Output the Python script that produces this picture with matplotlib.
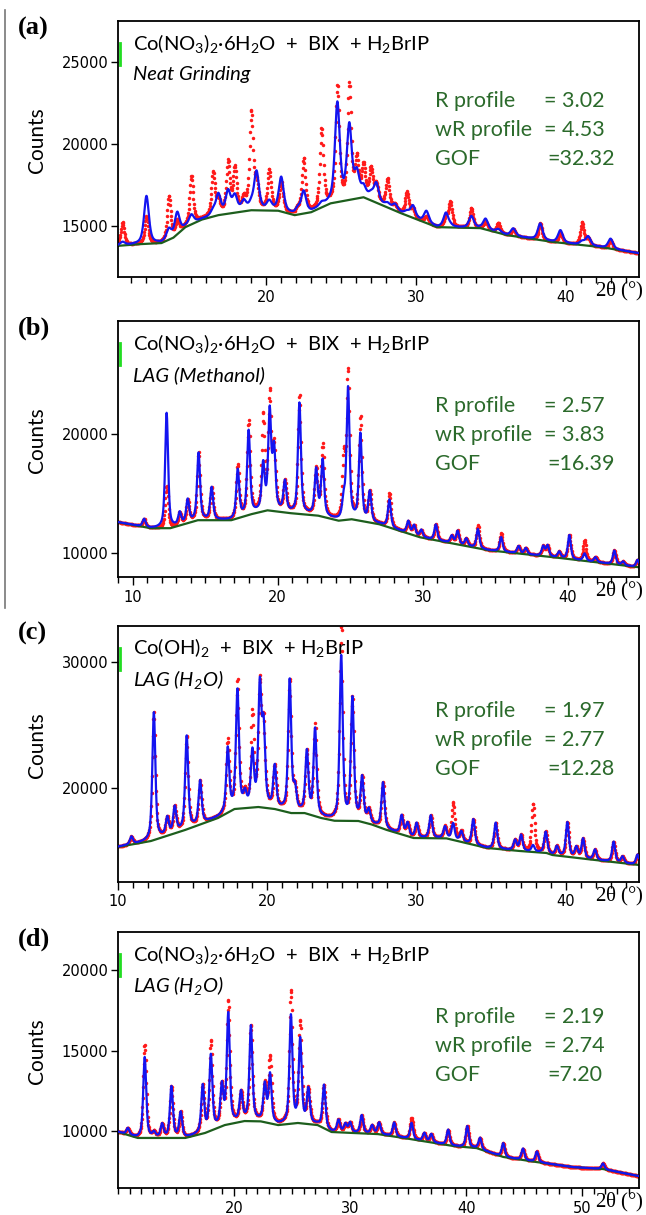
import numpy as np
import matplotlib
matplotlib.use('Agg')
import matplotlib.pyplot as plt
from matplotlib.lines import Line2D

plt.rcParams['mathtext.default'] = 'regular'

# ---- panel (a) : neat grinding ----
a_bg_x = [10.1, 11.5, 13.0, 13.8, 14.6, 15.7, 16.8, 19.0, 20.8, 21.9, 23.0, 24.3, 26.5,
          29.0, 31.4, 34.3, 36.1, 39.2, 42.3, 44.9]
a_bg_y = [13800, 13900, 13970, 14300, 14940, 15400, 15670, 15970, 15940, 15670, 15850,
          16390, 16760, 15790, 14940, 14880, 14450, 14030, 13730, 13350]
a_pk_pos = [10.4, 12.0, 13.5, 14.05, 15.0, 16.45, 16.8, 17.45, 17.9, 18.5, 19.0, 19.35,
            20.2, 21.0, 22.1, 22.5, 23.7, 24.75, 25.55, 26.05, 26.5, 27.0, 27.35, 28.1,
            28.6, 29.4, 29.8, 30.7, 32.0, 32.3, 33.7, 34.65, 35.5, 36.5, 38.3, 39.65,
            41.1, 41.5, 43.0]
a_pk_calc = [200, 2900, 600, 1300, 550, 300, 1200, 1300, 950, 550, 300, 2300,
             500, 2050, 300, 1300, 200, 5950, 4400, 1400, 500, 300, 1100, 200,
             350, 200, 700, 700, 850, 100, 700, 630, 200, 450, 1000, 750,
             200, 550, 600]
a_pk_obs = [1400, 1650, 2600, 800, 2900, 2600, 800, 3050, 2600, 700, 5900, 1500,
            2400, 1700, 300, 3300, 4700, 6950, 6900, 2300, 1800, 1850, 1000, 1700,
            300, 1400, 500, 400, 600, 1500, 1200, 500, 600, 400, 1000, 600,
            1400, 400, 500]
a_stats = [3.02, 4.53, 32.32]

# ---- panel (b) : LAG (methanol) ----
b_bg_x = [9.0, 11.25, 12.6, 14.5, 16.8, 18.2, 19.3, 20.9, 22.8, 24.2, 25.1, 27.0,
          29.8, 34.5, 39.0, 44.9]
b_bg_y = [12600, 12100, 12100, 12770, 12770, 13280, 13600, 13360, 13150, 12730, 12850,
          12430, 11340, 10250, 9660, 8820]
b_pk_pos = [10.8, 12.35, 13.25, 13.8, 14.55, 15.45, 17.25, 18.0, 19.0, 19.45, 19.75,
            20.5, 21.5, 22.65, 23.1, 24.55, 24.85, 25.7, 26.35, 27.7, 29.0, 29.4, 29.9,
            30.9, 32.0, 32.4, 33.0, 33.8, 35.4, 36.6, 37.1, 38.3, 38.6, 39.4, 40.1,
            41.15, 41.9, 43.2, 43.8, 44.8]
b_pk_calc = [650, 9650, 1000, 1900, 5600, 2700, 4000, 7000, 3800, 8150, 5000,
             2500, 9250, 3750, 4650, 1500, 10950, 7200, 2500, 2300, 1000, 800, 600,
             1300, 600, 1100, 600, 1600, 1200, 600, 500, 800, 900, 500, 2000,
             600, 400, 1150, 300, 600]
b_pk_obs = [650, 3500, 1000, 1900, 5600, 2700, 4400, 7800, 7800, 9500, 5000,
            2500, 9900, 3750, 5900, 5000, 12200, 8600, 2500, 2800, 1000, 800, 600,
            1300, 600, 1100, 600, 1900, 1500, 600, 500, 800, 900, 500, 2000,
            1700, 400, 1150, 300, 600]
b_stats = [2.57, 3.83, 16.39]

# ---- panel (c) : Co(OH)2, LAG (H2O) ----
c_bg_x = [10.0, 12.2, 14.5, 16.7, 17.8, 19.4, 20.5, 21.6, 22.5, 23.6, 24.5, 26.1,
          27.0, 28.0, 29.8, 32.0, 34.7, 36.9, 38.7, 39.1, 41.4, 44.9]
c_bg_y = [15320, 15790, 16670, 17620, 18330, 18490, 18330, 18010, 18010, 17620, 17400,
          17380, 17100, 16670, 16030, 16000, 15240, 15000, 14840, 14680, 14360, 13890]
c_pk_pos = [10.9, 12.4, 13.3, 13.8, 14.6, 15.5, 17.35, 18.0, 18.5, 19.0, 19.5, 19.75,
            20.5, 21.5, 21.85, 22.65, 23.2, 24.95, 25.7, 26.35, 26.8, 27.75, 29.0,
            29.4, 30.0, 30.95, 31.9, 32.45, 33.0, 33.8, 35.3, 36.6, 37.0, 37.8, 38.65,
            39.4, 40.1, 40.7, 41.15, 41.95, 43.2, 43.8, 44.8]
c_pk_calc = [600, 10100, 1350, 2000, 7350, 3400, 5000, 9300, 1000, 4200, 9300, 6000,
             3250, 10400, 1700, 4800, 6800, 12950, 9600, 3400, 1000, 3600, 1450,
             1000, 1150, 1780, 900, 1270, 800, 2000, 2050, 800, 1250, 500, 1650,
             700, 2700, 800, 1550, 800, 1600, 500, 800]
c_pk_obs = [600, 10100, 1350, 2000, 7350, 3400, 5600, 10100, 1000, 7200, 9300, 6000,
            3250, 10400, 1700, 4800, 7100, 15300, 9600, 3400, 1000, 3600, 1450,
            1000, 1150, 1780, 900, 2950, 800, 2000, 2050, 800, 1250, 3800, 1650,
            700, 2700, 800, 1550, 800, 1600, 500, 800]
c_stats = [1.97, 2.77, 12.28]

# ---- panel (d) : Co(NO3)2, LAG (H2O) ----
d_bg_x = [10.0, 11.7, 15.8, 17.5, 19.2, 20.9, 22.3, 23.8, 25.5, 27.2, 28.4, 30.2,
          32.4, 34.6, 38.9, 40.9, 43.2, 46.1, 49.2, 51.8, 54.9]
d_bg_y = [9940, 9570, 9570, 9880, 10370, 10620, 10600, 10370, 10500, 10370, 9940, 9880,
          9810, 9570, 9070, 8940, 8390, 8070, 7760, 7640, 7200]
d_pk_pos = [10.85, 12.3, 13.1, 13.8, 14.6, 15.4, 17.3, 18.0, 18.95, 19.5, 20.6, 21.45,
            22.65, 23.1, 24.9, 25.7, 26.4, 27.75, 29.0, 29.6, 30.0, 31.0, 31.9, 32.5,
            33.8, 35.3, 36.4, 37.0, 38.45, 40.1, 41.2, 43.2, 44.9, 46.1, 51.8]
d_pk_calc = [400, 5000, 300, 800, 3150, 1550, 2900, 4600, 2400, 6800, 1750, 5850,
             2250, 2950, 6650, 5150, 2100, 2650, 730, 500, 600, 1100, 500, 700,
             850, 1000, 500, 500, 950, 1300, 700, 850, 700, 650, 350]
d_pk_obs = [400, 5770, 300, 800, 3150, 1550, 2900, 5470, 2400, 7550, 1750, 5850,
            2250, 4000, 8150, 6200, 2100, 2650, 730, 500, 600, 1100, 500, 700,
            850, 1300, 500, 500, 950, 1300, 700, 850, 700, 650, 350]
d_stats = [2.19, 2.74, 7.20]

panel_tags = ['(a)', '(b)', '(c)', '(d)']
titles = [r'Co(NO$_3$)$_2$·6H$_2$O  +  BIX  + H$_2$BrIP',
          r'Co(NO$_3$)$_2$·6H$_2$O  +  BIX  + H$_2$BrIP',
          r'Co(OH)$_2$  +  BIX  + H$_2$BrIP',
          r'Co(NO$_3$)$_2$·6H$_2$O  +  BIX  + H$_2$BrIP']
methods = ['Neat Grinding', 'LAG (Methanol)', r'LAG (H$_2$O)', r'LAG (H$_2$O)']
stat_names = ['R profile', 'wR profile', 'GOF']

panels = [
    dict(bgx=a_bg_x, bgy=a_bg_y, pos=a_pk_pos, calc=a_pk_calc, obs=a_pk_obs, stats=a_stats,
         xlim=(10.1, 44.9), ylim=(11900, 27500), xt=[20, 30, 40], yt=[15000, 20000, 25000],
         wc=0.38, wo=0.28),
    dict(bgx=b_bg_x, bgy=b_bg_y, pos=b_pk_pos, calc=b_pk_calc, obs=b_pk_obs, stats=b_stats,
         xlim=(9.0, 44.9), ylim=(8000, 29500), xt=[10, 20, 30, 40], yt=[10000, 20000],
         wc=0.24, wo=0.24),
    dict(bgx=c_bg_x, bgy=c_bg_y, pos=c_pk_pos, calc=c_pk_calc, obs=c_pk_obs, stats=c_stats,
         xlim=(10.0, 44.9), ylim=(12540, 32860), xt=[10, 20, 30, 40], yt=[20000, 30000],
         wc=0.24, wo=0.24),
    dict(bgx=d_bg_x, bgy=d_bg_y, pos=d_pk_pos, calc=d_pk_calc, obs=d_pk_obs, stats=d_stats,
         xlim=(10.0, 54.9), ylim=(6460, 22360), xt=[20, 30, 40, 50], yt=[10000, 15000, 20000],
         wc=0.3, wo=0.3),
]


def profile(x, bgx, bgy, pos, amp, fwhm):
    y = np.interp(x, bgx, bgy)
    for p, h in zip(pos, amp):
        d = (x - p) / (fwhm / 2)
        y = y + h * (0.6 / (1 + d ** 2) + 0.4 * np.exp(-np.log(2) * d ** 2))
    return y


fig = plt.figure(figsize=(6.46, 12.15), dpi=100)
bottoms = [0.772, 0.5251, 0.2741, 0.0222]
green_txt = '#2b6a2b'

for i, p in enumerate(panels):
    ax = fig.add_axes([0.1827, bottoms[i], 0.8065, 0.2107])
    x0, x1 = p['xlim']
    xl = np.arange(x0, x1, 0.01)
    xd = np.arange(x0, x1, 0.03)
    ax.plot(xd, profile(xd, p['bgx'], p['bgy'], p['pos'], p['obs'], p['wo']),
            ls='none', marker='o', ms=2.5, mew=0, color='#ff1a1a', zorder=1)
    ax.plot(p['bgx'], p['bgy'], color='#1d5e1d', lw=1.6, zorder=2)
    ax.plot(xl, profile(xl, p['bgx'], p['bgy'], p['pos'], p['calc'], p['wc']),
            color='#1414f0', lw=1.6, zorder=3)

    ax.set_xlim(p['xlim'])
    ax.set_ylim(p['ylim'])
    ax.set_xticks(p['xt'])
    ax.set_xticks(np.arange(np.ceil(x0), x1, 1.0), minor=True)
    ax.set_yticks(p['yt'])
    ax.tick_params(axis='x', which='major', length=6, width=1, labelsize=10.5, pad=3)
    ax.tick_params(axis='x', which='minor', length=4, width=1)
    ax.tick_params(axis='y', which='major', length=5, width=1, labelsize=10.5, pad=2)
    for s in ax.spines.values():
        s.set_linewidth(1.3)

    ax.set_ylabel('Counts', family='Lato', fontsize=15)
    ax.yaxis.set_label_coords(-0.136, 0.535)

    # small green marker on left spine
    ax.plot([0.004, 0.004], [0.828, 0.914], transform=ax.transAxes, color='#22dd22',
            lw=2, clip_on=False, zorder=5)

    ax.text(0.029, 0.914, titles[i], transform=ax.transAxes, family='Lato',
            fontsize=14.5, va='center', ha='left')
    ax.text(0.029, 0.79, methods[i], transform=ax.transAxes, family='Lato',
            style='italic', fontsize=14.5, va='center', ha='left')

    ys = [0.668, 0.555, 0.441] if i else [0.6875, 0.574, 0.461]
    for k in range(3):
        ax.text(0.608, ys[k], stat_names[k], transform=ax.transAxes, family='Lato',
                fontsize=15.5, color=green_txt, va='center', ha='left')
        val = ('= %.2f' if k < 2 else '=%.2f') % p['stats'][k]
        ax.text(0.818 if k < 2 else 0.825, ys[k], val, transform=ax.transAxes,
                family='Lato', fontsize=15.5, color=green_txt, va='center', ha='left')

    ax.text(1.01, -0.058, r'2$\theta$ (°)', transform=ax.transAxes, family='Liberation Serif',
            fontsize=15, va='center', ha='right')

    fig.text(0.028, bottoms[i] + 0.2107 - 0.006, panel_tags[i], family='Liberation Serif',
             weight='bold', fontsize=19, va='center', ha='left')

fig.add_artist(Line2D([0.008, 0.008], [1 - 10 / 1215, 1 - 608 / 1215], color='#777777', lw=1.2))

fig.savefig('out.png', dpi=100)
